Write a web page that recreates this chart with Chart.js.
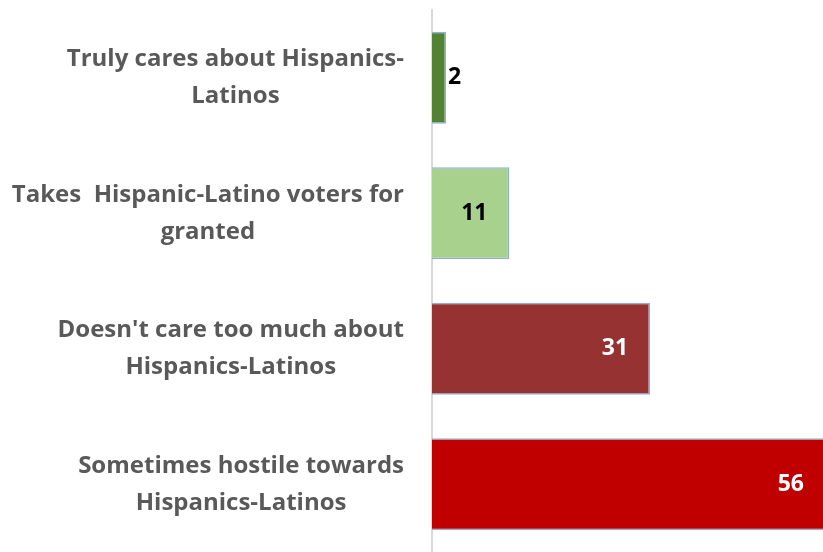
<!DOCTYPE html>
<html>
<head>
<meta charset="utf-8">
<script src="https://cdn.jsdelivr.net/npm/chart.js@4"></script>
<style>
  html, body { margin: 0; padding: 0; background: #fff; }
  #wrap { width: 823px; height: 552px; }
</style>
</head>
<body>
<div id="wrap"><canvas id="myChart"></canvas></div>
<script>
// data
var labels = [
    ['Truly cares about Hispanics-', 'Latinos'],
    ['Takes  Hispanic-Latino voters for', 'granted'],
    ["Doesn't care too much about", 'Hispanics-Latinos'],
    ['Sometimes hostile towards', 'Hispanics-Latinos']
];
var values = [2, 11, 31, 56];
var barColors = ['#548235', '#a9d18e', '#963232', '#c00000'];
var valueColors = ['#000000', '#000000', '#ffffff', '#ffffff'];

var FONT = '"Open Sans", Lato, sans-serif';

// category labels: block right-aligned to the axis, lines centred in the block
var labelPlugin = {
    id: 'labelPlugin',
    afterDraw: function (chart) {
        var c = chart.ctx;
        var y = chart.scales.y;
        var x = chart.scales.x;
        c.save();
        c.font = 'bold 24px ' + FONT;
        c.fillStyle = '#595959';
        c.textAlign = 'center';
        c.textBaseline = 'middle';
        labels.forEach(function (lines, i) {
            var maxW = 0;
            lines.forEach(function (l) { maxW = Math.max(maxW, c.measureText(l).width); });
            var cx = 404 - maxW / 2;
            var cy = y.getPixelForValue(i);
            var lh = 37;
            lines.forEach(function (l, j) {
                c.fillText(l, cx, cy + (j - (lines.length - 1) / 2) * lh);
            });
        });
        // value labels
        c.font = 'bold 23px ' + FONT;
        values.forEach(function (v, i) {
            var end = x.getPixelForValue(v);
            var cy = y.getPixelForValue(i);
            c.fillStyle = valueColors[i];
            if (end - x.left < 40) {
                c.textAlign = 'left';
                c.fillText(String(v), end + 2, cy);
            } else {
                c.textAlign = 'center';
                c.fillText(String(v), end - 35, cy);
            }
        });
        c.restore();
    }
};

var ctx = document.getElementById('myChart').getContext('2d');
var myChart = new Chart(ctx, {
    type: 'bar',
    data: {
        labels: labels,
        datasets: [{
            data: values,
            backgroundColor: barColors,
            borderColor: '#8fb0d4',
            borderWidth: 1.5,
            barPercentage: 0.68,
            categoryPercentage: 1
        }]
    },
    options: {
        indexAxis: 'y',
        responsive: true,
        maintainAspectRatio: false,
        animation: false,
        layout: { padding: { top: 10, right: 0, bottom: 0, left: 0 } },
        plugins: {
            legend: { display: false },
            tooltip: { enabled: false },
            title: { display: false }
        },
        scales: {
            x: {
                display: false,
                min: 0,
                max: 55.6
            },
            y: {
                grid: { display: false, drawTicks: false },
                border: { display: true, color: '#d9d9d9', width: 2 },
                ticks: { display: false },
                afterFit: function (scale) { scale.width = 432; }
            }
        }
    },
    plugins: [labelPlugin]
});
</script>
</body>
</html>
